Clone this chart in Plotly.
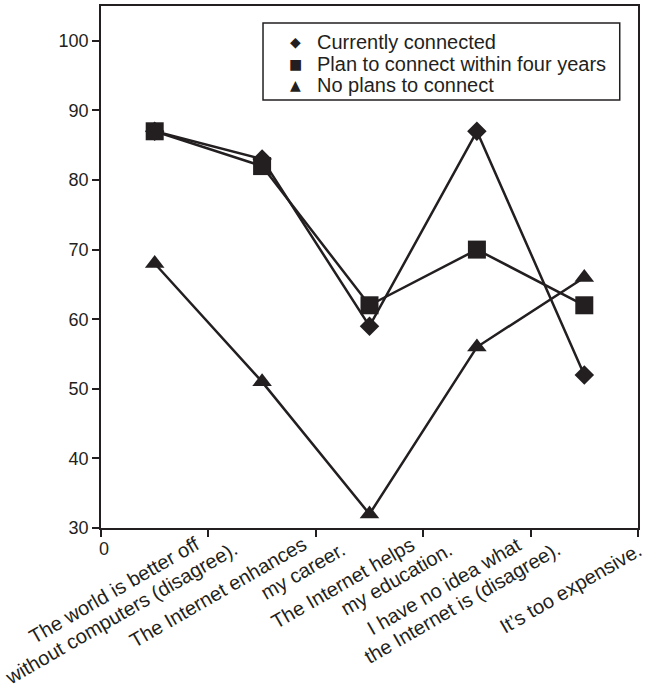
import plotly.graph_objects as go

categories = [
    "The world is better off<br>without computers (disagree).",
    "The Internet enhances<br>my career.",
    "The Internet helps<br>my education.",
    "I have no idea what<br>the Internet is (disagree).",
    "It’s too expensive.",
]
currently_connected = [87, 83, 59, 87, 52]
plan_to_connect = [87, 82, 62, 70, 62]
no_plans = [68, 51, 32, 56, 66]
y_ticks = [30, 40, 50, 60, 70, 80, 90, 100]
legend_names = ["Currently connected", "Plan to connect within four years",
                "No plans to connect"]
legend_glyphs = ["◆", "■", "▲"]

ink = "#231f20"
font = "Liberation Sans, Arial, sans-serif"

fig = go.Figure()
series = [
    ("No plans to connect", no_plans, "triangle-up", 17),
    ("Currently connected", currently_connected, "diamond", 15),
    ("Plan to connect within four years", plan_to_connect, "square", 18),
]
for name, vals, sym, sz in series:
    fig.add_trace(go.Scatter(
        x=categories, y=vals, mode="lines+markers", name=name,
        line=dict(color=ink, width=2.5),
        marker=dict(symbol=sym, size=sz, color=ink),
        showlegend=False,
    ))

fig.update_layout(
    width=645, height=690,
    margin=dict(l=101, r=7, t=6, b=162, autoexpand=False),
    paper_bgcolor="white", plot_bgcolor="white",
    font=dict(family=font, size=20, color=ink),
    showlegend=False,
)
fig.update_xaxes(
    type="category", categoryorder="array", categoryarray=categories,
    range=[-0.5, 4.5], tickson="boundaries", ticks="outside", ticklen=7,
    tickcolor=ink, tickwidth=1.5, showticklabels=False, automargin=False,
    showline=True, linecolor=ink, linewidth=1.5, mirror=True,
    showgrid=False, zeroline=False,
)
fig.update_yaxes(
    range=[30, 105], tickvals=y_ticks, ticks="outside", ticklen=7,
    tickcolor=ink, tickwidth=1.5, automargin=False,
    showline=True, linecolor=ink, linewidth=1.5, mirror=True,
    showgrid=False, zeroline=False, tickfont=dict(size=18),
)

# category labels, rotated like the original (each line placed separately)
for cat in categories:
    lines = cat.split("<br>")
    if len(lines) == 1:
        placements = [(lines[0], 64, -8)]
    else:
        placements = [(lines[0], 51, -2), (lines[1], 89, -7)]
    for txt, xs, ys in placements:
        fig.add_annotation(
            x=cat, y=0, xref="x", yref="paper", text=txt, showarrow=False,
            textangle=-30, xanchor="right", yanchor="top",
            xshift=xs, yshift=ys, font=dict(size=20, color=ink),
        )
fig.add_annotation(x=0, y=0, xref="paper", yref="paper", text="0",
                   showarrow=False, xanchor="center", yanchor="top",
                   xshift=3, yshift=-9, font=dict(size=18, color=ink))

# legend box drawn as a frame with symbol + text rows
fig.add_shape(type="rect", xref="paper", yref="paper",
              x0=0.3017, x1=0.966, y0=0.8199, y1=0.9674,
              line=dict(color=ink, width=1.5), fillcolor="white", layer="below")
row_y = [0.9310, 0.8898, 0.8487]
for name, glyph, yy in zip(legend_names, legend_glyphs, row_y):
    fig.add_annotation(x=0.3613, y=yy, xref="paper", yref="paper",
                       text=glyph, showarrow=False, xanchor="center",
                       yanchor="middle",
                       font=dict(size=14, color=ink, family="DejaVu Sans"))
    fig.add_annotation(x=0.3984, y=yy, xref="paper", yref="paper",
                       text=name, showarrow=False, xanchor="left",
                       yanchor="middle", font=dict(size=20, color=ink))

fig.write_html("out.html", config={"displayModeBar": False},
               post_script="document.body.style.margin='0';")
